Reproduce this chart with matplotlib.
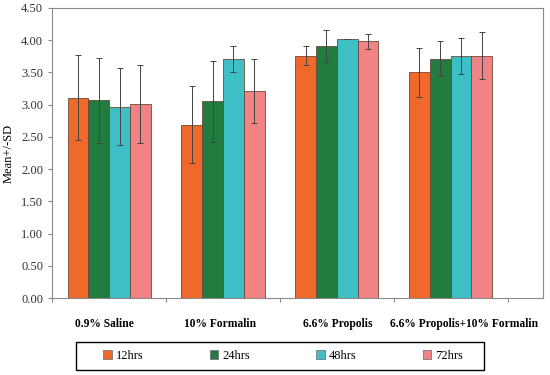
import matplotlib.pyplot as plt
from matplotlib.patches import Rectangle
import numpy as np

# data
groups = ['0.9% Saline', '10% Formalin', '6.6% Propolis', '6.6% Propolis+10% Formalin']
times = ['12hrs', '24hrs', '48hrs', '72hrs']
mean_12 = [3.11, 2.69, 3.76, 3.50]
mean_24 = [3.07, 3.05, 3.91, 3.71]
mean_48 = [2.97, 3.71, 4.01, 3.76]
mean_72 = [3.01, 3.21, 3.98, 3.76]
sd_12 = [0.66, 0.60, 0.15, 0.38]
sd_24 = [0.66, 0.63, 0.25, 0.27]
sd_48 = [0.60, 0.20, 0.00, 0.28]
sd_72 = [0.60, 0.50, 0.12, 0.36]
colors = ['#F0692A', '#237C3F', '#3EBFC5', '#F28385']

means = [mean_12, mean_24, mean_48, mean_72]
sds = [sd_12, sd_24, sd_48, sd_72]

plt.rcParams['font.family'] = ['Liberation Serif', 'DejaVu Serif']

fig = plt.figure(figsize=(5.5, 3.75), dpi=100)
ax = fig.add_axes([0.095, 0.205, 0.892, 0.774])

x = np.arange(len(groups))
w = 0.183
for i in range(4):
    pos = x + (i - 1.5) * w
    ax.bar(pos, means[i], w, color=colors[i], edgecolor='#6b4a3a', linewidth=0.6,
           label=times[i], zorder=2)
    ax.errorbar(pos, means[i], yerr=sds[i], fmt='none', ecolor='#444444',
                elinewidth=0.7, capsize=2.5, capthick=0.7, zorder=3)

ax.set_ylim(0, 4.5)
ax.set_xlim(-0.5, 3.81)
ax.set_yticks(np.arange(0, 4.51, 0.5))
ax.set_yticklabels(['%.2f' % v for v in np.arange(0, 4.51, 0.5)], fontsize=9, color='#333333')
ax.set_xticks(np.arange(-0.5, 3.6, 1))
ax.set_xticklabels([])
ax.tick_params(axis='x', length=3, color='#888888', direction='out')
ax.tick_params(axis='y', length=3, color='#888888', direction='out')
for s in ax.spines.values():
    s.set_color('#8a8a8a')
    s.set_linewidth(0.8)

ax.set_ylabel('Mean+/-SD', fontsize=9, labelpad=5)

# group names sit under the axis, a bit right of the bar groups
label_x = [104, 220, 338, 464]
for lx, g in zip(label_x, groups):
    fig.text(lx / 550, 1 - 324 / 375, g, ha='center', va='center',
             fontsize=8.3, fontweight='bold')

leg = fig.legend(loc='center', bbox_to_anchor=(283 / 550, 1 - 356 / 375), ncol=4,
                 fontsize=9, frameon=False,
                 handlelength=0.7, handleheight=0.7, columnspacing=5.3,
                 handletextpad=0.3)
for h in leg.legend_handles:
    h.set_edgecolor('#777777')

fig.add_artist(Rectangle((76 / 550, 1 - 370 / 375), 408 / 550, 28 / 375,
                         transform=fig.transFigure, fill=False,
                         edgecolor='black', linewidth=1.0))

fig.savefig('out.png', dpi=100)
